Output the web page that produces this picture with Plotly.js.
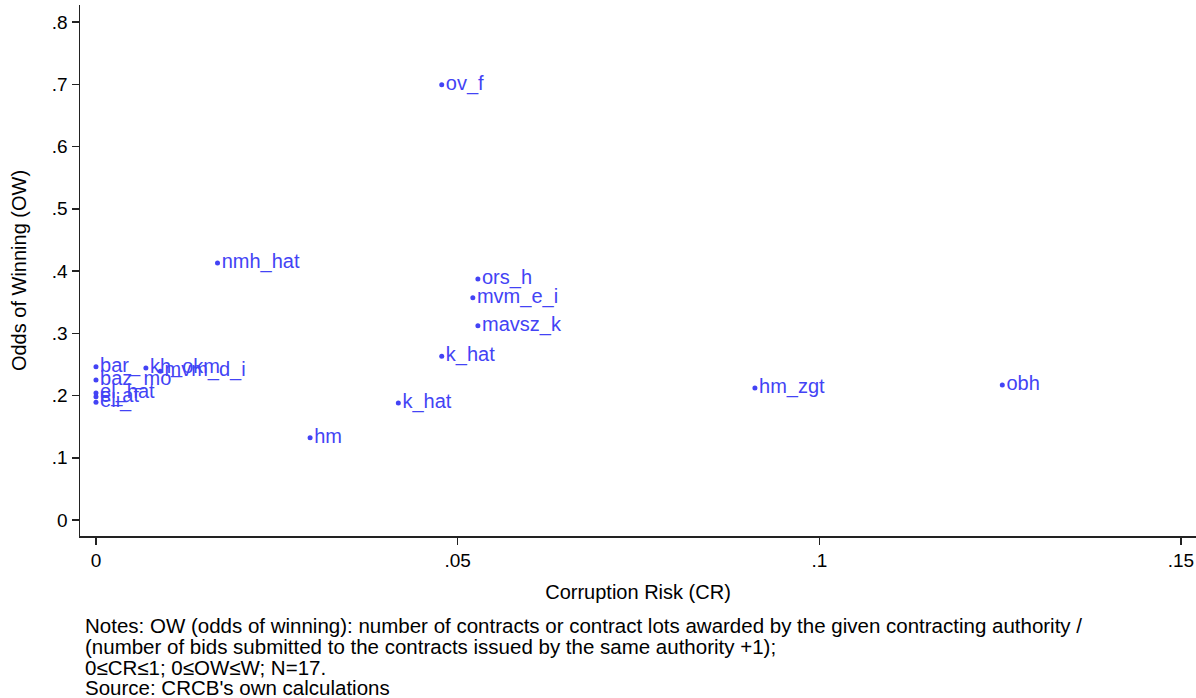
<!DOCTYPE html>
<html>
<head>
<meta charset="utf-8">
<script src="https://cdn.plot.ly/plotly-3.0.1.min.js"></script>
<style>html,body{margin:0;padding:0;background:#fff;}#chart{width:1196px;height:698px;}</style>
</head>
<body>
<div id="chart"></div>
<script>
const labels = ["ov_f","nmh_hat","ors_h","mvm_e_i","mavsz_k","k_hat","k_hat","hm","hm_zgt","obh","bar_","baz_mo","el_hat","e_at","eli_","kh_okm","mvm_d_i"];
const corruptionRisk = [0.0478,0.0168,0.0528,0.0521,0.0528,0.0478,0.0418,0.0296,0.0911,0.1253,0,0,0,0,0,0.0069,0.0089];
const oddsOfWinning = [0.699,0.413,0.387,0.357,0.312,0.263,0.188,0.132,0.212,0.217,0.246,0.225,0.204,0.198,0.189,0.244,0.239];
const xTicks = [0,0.05,0.1,0.15];
const xTickLabels = ["0",".05",".1",".15"];
const yTicks = [0,0.1,0.2,0.3,0.4,0.5,0.6,0.7,0.8];
const yTickLabels = ["0",".1",".2",".3",".4",".5",".6",".7",".8"];
const notes = [
  "Notes: OW (odds of winning): number of contracts or contract lots awarded by the given contracting authority /",
  "(number of bids submitted to the contracts issued by the same authority +1);",
  "0≤CR≤1; 0≤OW≤W; N=17.",
  "Source: CRCB's own calculations"
];
const blue = "#4343f5";
const font = "Liberation Sans, Arial, sans-serif";
const trace = {
  x: corruptionRisk, y: oddsOfWinning, text: labels,
  mode: "markers+text", type: "scatter",
  textposition: "middle right",
  marker: {size: 5, color: blue},
  textfont: {family: font, size: 20, color: blue},
  hoverinfo: "none", cliponaxis: false
};
const plotBottom = 536, plotH = 531;
const lineCenters = [625, 646, 667, 688];
const annotations = notes.map((t, i) => ({
  xref: "paper", yref: "paper", x: 3/1116, y: (plotBottom - lineCenters[i]) / plotH,
  xanchor: "left", yanchor: "middle", align: "left", showarrow: false,
  text: t,
  font: {family: font, size: 20.5, color: "#000"}
}));
const layout = {
  width: 1196, height: 698,
  margin: {l: 80, r: 0, t: 5, b: 162},
  paper_bgcolor: "#fff", plot_bgcolor: "#fff",
  showlegend: false,
  font: {family: font, color: "#000"},
  xaxis: {
    range: [-0.00221, 0.15208], showgrid: false, zeroline: false,
    showline: true, linecolor: "#222", linewidth: 1.5,
    ticks: "outside", ticklen: 7, tickcolor: "#222", tickwidth: 1.5,
    tickvals: xTicks, ticktext: xTickLabels,
    tickfont: {family: font, size: 19, color: "#000"},
    title: {text: "Corruption Risk (CR)", font: {family: font, size: 20, color: "#000"}, standoff: 14}
  },
  yaxis: {
    range: [-0.0257, 0.8273], showgrid: false, zeroline: false,
    showline: true, linecolor: "#222", linewidth: 1.5,
    ticks: "outside", ticklen: 7, tickcolor: "#222", tickwidth: 1.5,
    tickvals: yTicks, ticktext: yTickLabels,
    tickfont: {family: font, size: 19, color: "#000"},
    title: {text: "Odds of Winning (OW)", font: {family: font, size: 20, color: "#000"}, standoff: 20}
  },
  annotations: annotations
};
Plotly.newPlot("chart", [trace], layout, {displayModeBar: false, staticPlot: true});
</script>
</body>
</html>
